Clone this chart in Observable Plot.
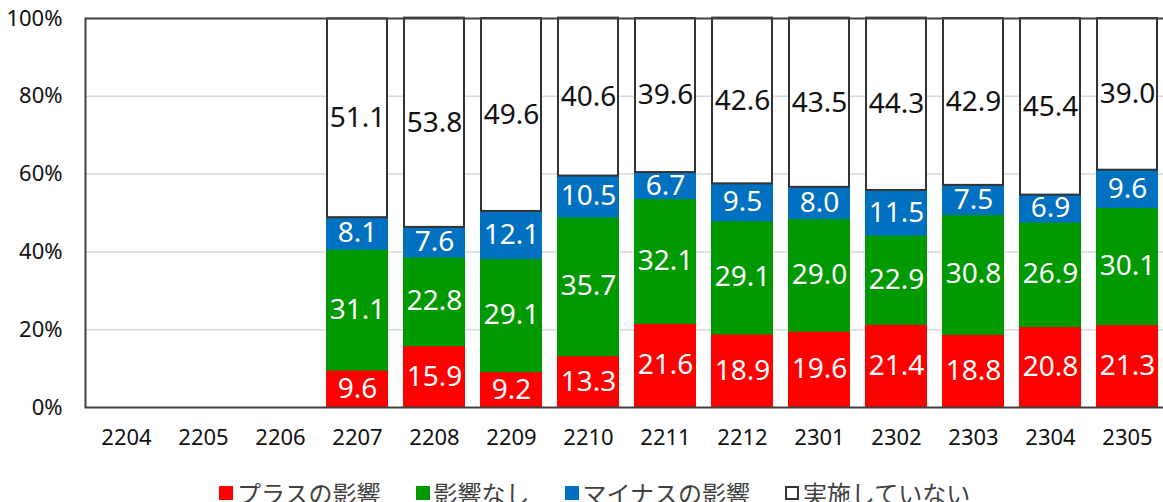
<!DOCTYPE html>
<html><head><meta charset="utf-8">
<script src="https://cdn.jsdelivr.net/npm/d3@7"></script>
<script src="https://cdn.jsdelivr.net/npm/@observablehq/plot@0.6"></script>
<style>
body{margin:0;background:#fff;}
#wrap{position:relative;width:1163px;height:502px;overflow:hidden;background:#fff;}
#legend{position:absolute;left:219px;top:479px;display:flex;align-items:center;font-family:"Noto Sans CJK JP","Noto Sans",sans-serif;font-size:24px;color:#404040;line-height:28px;white-space:nowrap;}
#legend .item{display:flex;align-items:center;margin-right:35px;}
#legend .sw{width:14px;height:14px;margin-right:4px;box-sizing:border-box;}
</style></head><body>
<div id="wrap"><div id="chart"></div><div id="legend"></div></div>
<script>
const months = ["2204","2205","2206","2207","2208","2209","2210","2211","2212","2301","2302","2303","2304","2305"];
const series = ["プラスの影響","影響なし","マイナスの影響","実施していない"];
const colors = ["#ff0000","#009900","#0070c0","#ffffff"];
const plusImpact  = [null,null,null, 9.6,15.9, 9.2,13.3,21.6,18.9,19.6,21.4,18.8,20.8,21.3];
const noImpact    = [null,null,null,31.1,22.8,29.1,35.7,32.1,29.1,29.0,22.9,30.8,26.9,30.1];
const minusImpact = [null,null,null, 8.1, 7.6,12.1,10.5, 6.7, 9.5, 8.0,11.5, 7.5, 6.9, 9.6];
const notDone     = [null,null,null,51.1,53.8,49.6,40.6,39.6,42.6,43.5,44.3,42.9,45.4,39.0];
const yTicks = [0,20,40,60,80,100];

const seriesValues = [plusImpact, noImpact, minusImpact, notDone];
const rows = [];
months.forEach((m, i) => {
  seriesValues.forEach((arr, j) => {
    if (arr[i] != null) rows.push({month: m, series: series[j], value: arr[i]});
  });
});

const isWhite = d => d.series === series[3];

const chart = Plot.plot({
  width: 1163,
  height: 460,
  marginLeft: 85,
  marginTop: 18,
  marginBottom: 53,
  marginRight: -5,
  x: {domain: months, paddingInner: 0.22, paddingOuter: 0.11, label: null},
  y: {domain: [0, 100], label: null},
  color: {domain: series, range: colors},
  style: {fontFamily: "Noto Sans", fontSize: "22px", color: "#111", background: "#fff"},
  marks: [
    Plot.ruleY(yTicks.slice(1, -1), {stroke: "#d9d9d9", strokeWidth: 1.5}),
    Plot.barY(rows, Plot.stackY({
      x: "month", y: "value", fill: "series",
      stroke: d => isWhite(d) ? "#333333" : colors[series.indexOf(d.series)],
      strokeWidth: 2
    })),
    Plot.text(rows, Plot.stackY({
      x: "month", y: "value",
      text: d => d.value.toFixed(1),
      fill: d => isWhite(d) ? "#111111" : "#ffffff",
      fontSize: 28
    })),
    Plot.frame({stroke: "#404040", strokeWidth: 2}),
    Plot.axisX({tickSize: 0, tickPadding: 22, fontSize: 22, label: null, fill: "#111"}),
    Plot.axisY(yTicks, {tickSize: 0, tickPadding: 23, fontSize: 22, label: null, tickFormat: d => d + "%", fill: "#111"})
  ]
});
document.getElementById("chart").appendChild(chart);

const legend = document.getElementById("legend");
series.forEach((s, i) => {
  const item = document.createElement("div");
  item.className = "item";
  const sw = document.createElement("span");
  sw.className = "sw";
  sw.style.background = colors[i];
  if (i === 3) sw.style.border = "2px solid #333";
  const t = document.createElement("span");
  t.textContent = s;
  item.appendChild(sw);
  item.appendChild(t);
  legend.appendChild(item);
});
</script>
</body></html>
